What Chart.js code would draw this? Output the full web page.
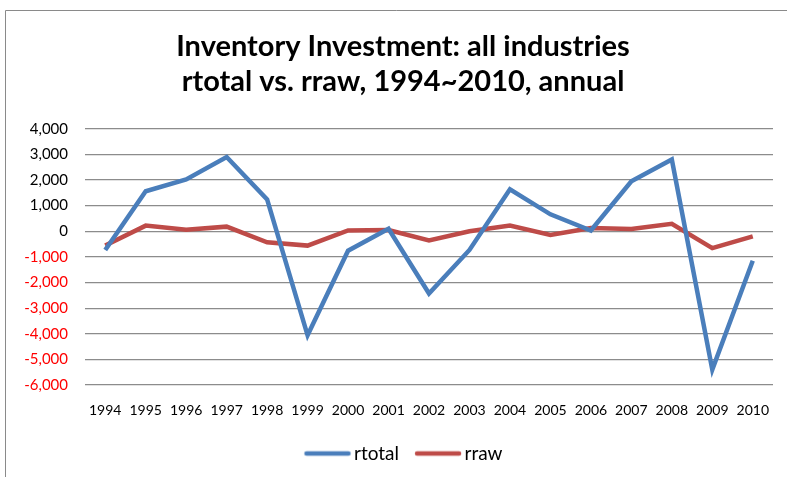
<!DOCTYPE html>
<html><head><meta charset="utf-8">
<script src="https://cdn.jsdelivr.net/npm/chart.js@4"></script>
<style>html,body{margin:0;padding:0;background:#fff;}#wrap{position:relative;width:787px;height:477px;}canvas{display:block;}</style>
</head><body><div id="wrap"><canvas id="c" width="787" height="477"></canvas></div>
<script>
const years = ['1994','1995','1996','1997','1998','1999','2000','2001','2002','2003','2004','2005','2006','2007','2008','2009','2010'];
const rtotal = [-730, 1560, 2020, 2900, 1240, -4060, -760, 100, -2430, -730, 1640, 660, 30, 1950, 2800, -5400, -1150];
const rraw = [-560, 220, 60, 180, -430, -560, 30, 50, -360, 0, 220, -140, 130, 90, 290, -660, -200];
const titleLines = ['Inventory Investment: all industries', 'rtotal vs. rraw, 1994~2010, annual'];
const FONT = 'Lato, "Liberation Sans", sans-serif';
const BLUE = '#4A7EBB';
const RED = '#BE4B48';

function legendLine(color) {
  const cv = document.createElement('canvas');
  cv.width = 62; cv.height = 8;
  const g = cv.getContext('2d');
  g.strokeStyle = color;
  g.lineWidth = 4.5;
  g.lineCap = 'round';
  g.beginPath();
  g.moveTo(16, 4);
  g.lineTo(58, 4);
  g.stroke();
  return cv;
}

const framePlugin = {
  id: 'frame',
  afterLayout(chart) {
    // the original frame extends beyond the right edge, so title/legend sit left of the plot centre
    if (chart.titleBlock) chart.titleBlock.left += 33;
    if (chart.legend) chart.legend.left += 28;
  },
  beforeDraw(chart) {
    const ctx = chart.ctx;
    ctx.save();
    ctx.fillStyle = '#fff';
    ctx.fillRect(0, 0, chart.width, chart.height);
    ctx.strokeStyle = '#8a8a8a';
    ctx.lineWidth = 1;
    ctx.beginPath();
    ctx.moveTo(5.5, chart.height);
    ctx.lineTo(5.5, 10.5);
    ctx.lineTo(chart.width, 10.5);
    ctx.stroke();
    ctx.restore();
  }
};

new Chart(document.getElementById('c'), {
  type: 'line',
  data: {
    labels: years,
    datasets: [
      { label: 'rtotal', data: rtotal, borderColor: BLUE, backgroundColor: BLUE, borderWidth: 4.5, pointRadius: 0, pointStyle: legendLine(BLUE), tension: 0 },
      { label: 'rraw', data: rraw, borderColor: RED, backgroundColor: RED, borderWidth: 4.5, pointRadius: 0, pointStyle: legendLine(RED), tension: 0 }
    ]
  },
  options: {
    responsive: false,
    animation: false,
    layout: { padding: { left: 0, right: 14, top: 0, bottom: 4 } },
    plugins: {
      title: {
        display: true,
        text: titleLines,
        color: '#000',
        font: { family: FONT, size: 29, weight: 'bold', lineHeight: 1.22 },
        padding: { top: 29, bottom: 29 }
      },
      legend: {
        position: 'bottom',
        labels: {
          usePointStyle: true,
          pointStyleWidth: 46,
          color: '#000',
          font: { family: FONT, size: 19 },
          padding: 10
        }
      },
      tooltip: { enabled: false }
    },
    scales: {
      x: {
        offset: true,
        grid: { display: false },
        border: { display: false },
        ticks: { color: '#000', font: { family: FONT, size: 14 }, padding: 9, maxRotation: 0, autoSkip: false },
        afterFit(s) { s.height = 49; }
      },
      y: {
        min: -6000,
        max: 4000,
        afterFit(s) { s.width = 85; },
        border: { display: false },
        grid: { color: '#8c8c8c', lineWidth: 1.2, drawTicks: false },
        ticks: {
          stepSize: 1000,
          padding: 17,
          font: { family: FONT, size: 15 },
          color: (c) => (c.tick && c.tick.value < 0 ? '#ff0000' : '#000'),
          callback: (v) => v.toLocaleString('en-US')
        }
      }
    }
  },
  plugins: [framePlugin]
});
</script></body></html>
